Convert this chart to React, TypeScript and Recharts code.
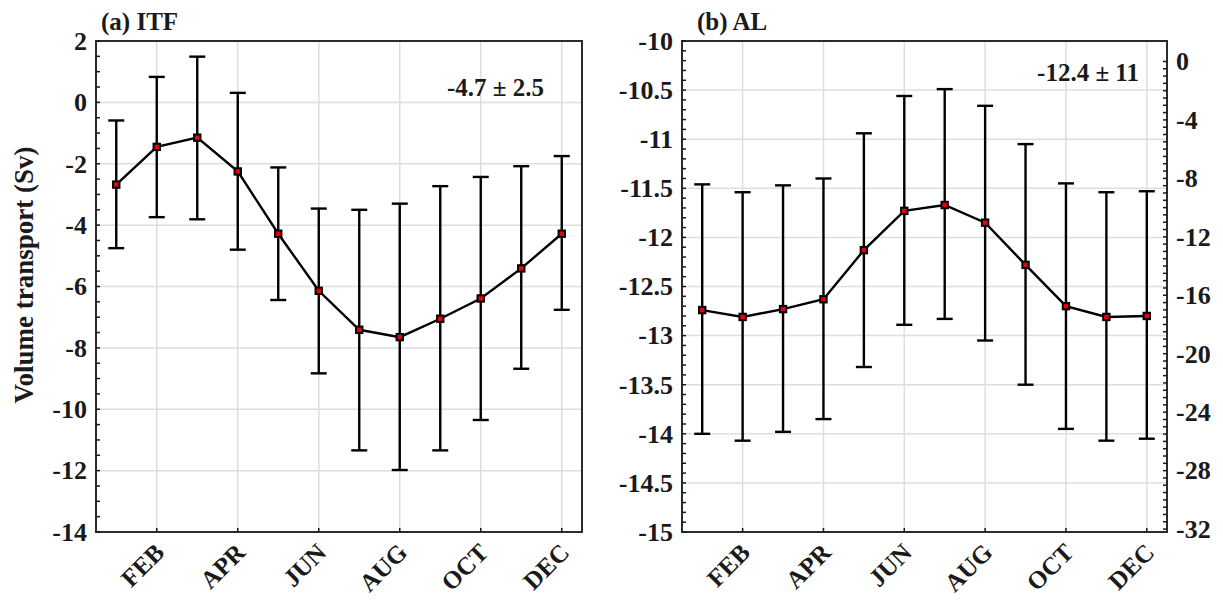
import React from 'react';
import { LineChart, Line, XAxis, YAxis, CartesianGrid, ErrorBar, ReferenceArea } from 'recharts';

const monthNums = [1, 2, 3, 4, 5, 6, 7, 8, 9, 10, 11, 12];
const monthNames = ['JAN', 'FEB', 'MAR', 'APR', 'MAY', 'JUN', 'JUL', 'AUG', 'SEP', 'OCT', 'NOV', 'DEC'];
const monthTicks = [2, 4, 6, 8, 10, 12];

// (a) ITF - monthly mean and error bar ends (Sv)
const itfMean = [-2.68, -1.45, -1.15, -2.25, -4.28, -6.14, -7.41, -7.65, -7.05, -6.39, -5.41, -4.28];
const itfUpper = [-0.59, 0.83, 1.49, 0.31, -2.12, -3.46, -3.5, -3.3, -2.73, -2.43, -2.08, -1.75];
const itfLower = [-4.75, -3.74, -3.81, -4.8, -6.44, -8.83, -11.34, -11.98, -11.34, -10.35, -8.68, -6.76];
const itfTicks = [-14, -12, -10, -8, -6, -4, -2, 0, 2];

// (b) AL
const alMean = [-12.74, -12.81, -12.73, -12.63, -12.13, -11.73, -11.67, -11.85, -12.28, -12.7, -12.81, -12.8];
const alUpper = [-11.46, -11.54, -11.47, -11.4, -10.94, -10.56, -10.49, -10.66, -11.05, -11.45, -11.54, -11.53];
const alLower = [-14.0, -14.07, -13.98, -13.85, -13.32, -12.89, -12.83, -13.05, -13.5, -13.95, -14.07, -14.05];
const alTicks = [-15, -14.5, -14, -13.5, -13, -12.5, -12, -11.5, -11, -10.5, -10];
const alRightTicks = [-32, -28, -24, -20, -16, -12, -8, -4, 0];

const FONT = "'Liberation Serif', 'Times New Roman', serif";
const INK = '#1a1a1a';
const GRID = '#dedede';

const steps = (from: number, to: number, step: number) => {
  const out: number[] = [];
  const n = Math.round((to - from) / step);
  for (let i = 0; i <= n; i++) out.push(Math.round((from + i * step) * 1000) / 1000);
  return out;
};

const toRows = (mean: number[], upper: number[], lower: number[]) =>
  monthNums.map((m, i) => ({
    month: m,
    value: mean[i],
    err: [+(mean[i] - lower[i]).toFixed(3), +(upper[i] - mean[i]).toFixed(3)],
  }));

const isMajor = (list: number[], v: number) => list.some((t) => Math.abs(t - v) < 1e-6);

const labelStyle = { fontFamily: FONT, fontWeight: 700, fontSize: 26, fill: INK };

const SquareDot = (props: any) => {
  const { cx, cy } = props;
  if (cx == null || cy == null) return null;
  return <rect x={cx - 3.2} y={cy - 3.2} width={6.4} height={6.4} fill="#e8000b" stroke="#000" strokeWidth={2} />;
};

const monthTick = (p: any) => {
  const { x, y, payload } = p;
  return (
    <g>
      <line x1={x} x2={x} y1={y} y2={y - 4} stroke={INK} strokeWidth={1.5} />
      <text
        x={0}
        y={0}
        transform={`translate(${x + 9},${y + 22}) rotate(-45)`}
        textAnchor="end"
        style={{ ...labelStyle, fontSize: 25 }}
      >
        {monthNames[payload.value - 1]}
      </text>
    </g>
  );
};

const topTick = (p: any) => (
  <line x1={p.x} x2={p.x} y1={p.y} y2={p.y + 4} stroke={INK} strokeWidth={1.5} />
);

interface PanelProps {
  rows: any[];
  yDomain: [number, number];
  yMajor: number[];
  yMinorStep: number;
  rDomain?: [number, number];
  rMajor?: number[];
  rMinorStep?: number;
  width: number;
  leftW: number;
  rightW: number;
  marginRight: number;
}

function Panel({ rows, yDomain, yMajor, yMinorStep, rDomain, rMajor, rMinorStep, width, leftW, rightW, marginRight }: PanelProps) {
  const yAll = steps(yDomain[0], yDomain[1], yMinorStep);
  const rightDomain = rDomain || yDomain;
  const rightMajor = rMajor || [];
  const rAll = rDomain ? steps(rightMajor[0], rightMajor[rightMajor.length - 1], rMinorStep || 1) : yAll;

  const leftTick = (p: any) => {
    const v = p.payload.value;
    return (
      <g>
        <line x1={p.x} x2={p.x + 4} y1={p.y} y2={p.y} stroke={INK} strokeWidth={1.5} />
        {isMajor(yMajor, v) && (
          <text x={p.x - 9} y={p.y} dy="0.34em" textAnchor="end" style={labelStyle}>
            {String(v)}
          </text>
        )}
      </g>
    );
  };

  const rightTick = (p: any) => {
    const v = p.payload.value;
    return (
      <g>
        <line x1={p.x} x2={p.x - 4} y1={p.y} y2={p.y} stroke={INK} strokeWidth={1.5} />
        {isMajor(rightMajor, v) && (
          <text x={p.x + 9} y={p.y} dy="0.34em" textAnchor="start" style={labelStyle}>
            {String(v)}
          </text>
        )}
      </g>
    );
  };

  return (
    <LineChart width={width} height={601} data={rows} margin={{ top: 41, right: marginRight, bottom: 9, left: 0 }}>
      <CartesianGrid
        xAxisId="b"
        yAxisId="l"
        stroke={GRID}
        strokeWidth={1.5}
        horizontalValues={yMajor}
        verticalValues={monthTicks}
      />
      <XAxis
        xAxisId="b"
        dataKey="month"
        type="number"
        domain={[0.5, 12.5]}
        ticks={monthTicks}
        interval={0}
        tickSize={0}
        tickMargin={0}
        tickLine={false}
        axisLine={false}
        height={60}
        tick={monthTick}
      />
      <XAxis
        xAxisId="t"
        orientation="top"
        dataKey="month"
        type="number"
        domain={[0.5, 12.5]}
        ticks={monthTicks}
        interval={0}
        tickSize={0}
        tickMargin={0}
        tickLine={false}
        axisLine={false}
        height={0}
        tick={topTick}
      />
      <YAxis
        yAxisId="l"
        type="number"
        domain={yDomain}
        ticks={yAll}
        interval={0}
        tickSize={0}
        tickMargin={0}
        tickLine={false}
        axisLine={false}
        width={leftW}
        tick={leftTick}
      />
      <YAxis
        yAxisId="r"
        orientation="right"
        type="number"
        domain={rightDomain}
        ticks={rAll}
        interval={0}
        tickSize={0}
        tickMargin={0}
        tickLine={false}
        axisLine={false}
        width={rightW}
        tick={rightTick}
        allowDataOverflow
      />
      <ReferenceArea
        xAxisId="b"
        yAxisId="l"
        x1={0.5}
        x2={12.5}
        y1={yDomain[0]}
        y2={yDomain[1]}
        fill="none"
        fillOpacity={0}
        stroke="#2b2b2b"
        strokeWidth={2}
      />
      <Line
        xAxisId="b"
        yAxisId="l"
        dataKey="value"
        type="linear"
        stroke="#000"
        strokeWidth={2.4}
        dot={<SquareDot />}
        activeDot={false}
        isAnimationActive={false}
      >
        <ErrorBar dataKey="err" direction="y" width={8} stroke="#000" strokeWidth={2.4} isAnimationActive={false} />
      </Line>
    </LineChart>
  );
}

export default function App() {
  const itfRows = toRows(itfMean, itfUpper, itfLower);
  const alRows = toRows(alMean, alUpper, alLower);
  const textStyle = { fontFamily: FONT, fontWeight: 700, fill: INK };

  return (
    <div style={{ position: 'absolute', left: 0, top: 0, width: 1223, height: 601, background: '#fff', overflow: 'hidden' }}>
      <div style={{ position: 'absolute', left: 0, top: 0 }}>
        <Panel
          rows={itfRows}
          yDomain={[-14, 2]}
          yMajor={itfTicks}
          yMinorStep={0.5}
          width={600}
          leftW={96}
          rightW={0}
          marginRight={18}
        />
      </div>
      <div style={{ position: 'absolute', left: 600, top: 0 }}>
        <Panel
          rows={alRows}
          yDomain={[-15, -10]}
          yMajor={alTicks}
          yMinorStep={0.1}
          rDomain={[-32.2, 1.4]}
          rMajor={alRightTicks}
          rMinorStep={0.5}
          width={623}
          leftW={82}
          rightW={56}
          marginRight={0}
        />
      </div>
      <svg width={1223} height={601} style={{ position: 'absolute', left: 0, top: 0, pointerEvents: 'none' }}>
        <text x={101} y={30} style={{ ...textStyle, fontSize: 25 }}>(a) ITF</text>
        <text x={697} y={30} style={{ ...textStyle, fontSize: 25 }}>(b) AL</text>
        <text x={544} y={96} textAnchor="end" style={{ ...textStyle, fontSize: 25 }}>-4.7 ± 2.5</text>
        <text x={1139} y={81} textAnchor="end" style={{ ...textStyle, fontSize: 25 }}>-12.4 ± 11</text>
        <text
          x={0}
          y={0}
          transform="translate(33,275) rotate(-90)"
          textAnchor="middle"
          style={{ ...textStyle, fontSize: 27 }}
        >
          Volume transport (Sv)
        </text>
      </svg>
    </div>
  );
}
